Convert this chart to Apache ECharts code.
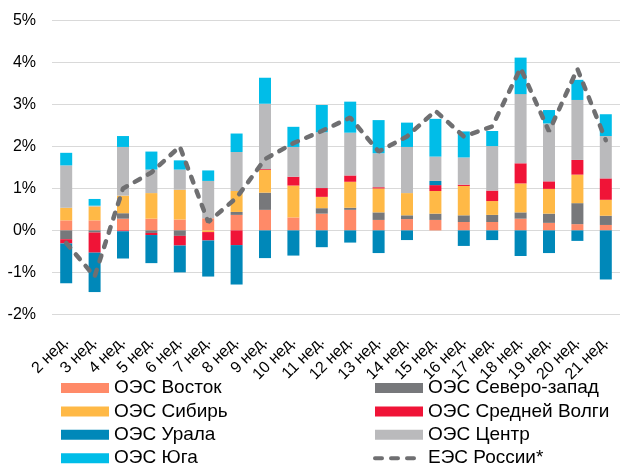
<!DOCTYPE html>
<html>
<head>
<meta charset="utf-8">
<script src="https://cdn.jsdelivr.net/npm/echarts@6/dist/echarts.min.js"></script>
<style>
  html, body { margin: 0; padding: 0; background: #fff; }
  #chart { width: 620px; height: 464px; }
</style>
</head>
<body>
<div id="chart"></div>
<script>
const weeks = ['2 нед.', '3 нед.', '4 нед.', '5 нед.', '6 нед.', '7 нед.', '8 нед.', '9 нед.', '10 нед.', '11 нед.',
  '12 нед.', '13 нед.', '14 нед.', '15 нед.', '16 нед.', '17 нед.', '18 нед.', '19 нед.', '20 нед.', '21 нед.']

const vostok = [0.24, 0.24, 0.28, 0.28, 0.26, 0.29, 0.37, 0.49, 0.31, 0.40, 0.49, 0.25, 0.27, 0.25, 0.20, 0.20, 0.28, 0.18, 0.15, 0.13]
const sevZapad = [-0.21, -0.05, 0.13, -0.06, -0.13, 0, 0.07, 0.41, 0, 0.13, 0.05, 0.18, 0.09, 0.15, 0.16, 0.17, 0.15, 0.22, 0.50, 0.22]
const sibir = [0.30, 0.33, 0.42, 0.61, 0.71, -0.04, 0.50, 0.54, 0.76, 0.27, 0.62, 0.57, 0.53, 0.54, 0.70, 0.33, 0.69, 0.59, 0.68, 0.38]
const srVolga = [-0.10, -0.48, -0.02, -0.05, -0.23, -0.20, -0.35, 0.02, 0.21, 0.21, 0.15, 0.03, 0, 0.14, 0.03, 0.25, 0.48, 0.18, 0.35, 0.51]
const ural = [-0.95, -0.94, -0.65, -0.67, -0.64, -0.86, -0.94, -0.66, -0.60, -0.40, -0.29, -0.54, -0.23, 0.10, -0.37, -0.23, -0.61, -0.54, -0.25, -1.17]
const centr = [1.01, 0.02, 1.16, 0.56, 0.48, 0.89, 0.93, 1.56, 0.71, 1.33, 1.02, 0.81, 1.10, 0.58, 0.65, 1.06, 1.65, 1.38, 1.43, 1.01]
const yug = [0.30, 0.16, 0.26, 0.43, 0.22, 0.25, 0.44, 0.62, 0.48, 0.65, 0.74, 0.79, 0.58, 0.90, 0.62, 0.36, 0.87, 0.32, 0.48, 0.52]
const ees = [-0.3, -1.1, 1.0, 1.38, 2.0, 0.2, 0.78, 1.7, 2.08, 2.37, 2.69, 1.88, 2.24, 2.85, 2.24, 2.48, 3.87, 2.36, 3.85, 2.15]

const font = "'Liberation Sans', Arial, sans-serif"

const bars = [
  { name: 'ОЭС Восток', data: vostok, color: '#FF8A68' },
  { name: 'ОЭС Северо-запад', data: sevZapad, color: '#77787B' },
  { name: 'ОЭС Сибирь', data: sibir, color: '#FFB946' },
  { name: 'ОЭС Средней Волги', data: srVolga, color: '#F01437' },
  { name: 'ОЭС Урала', data: ural, color: '#0088B9' },
  { name: 'ОЭС Центр', data: centr, color: '#BABABC' },
  { name: 'ОЭС Юга', data: yug, color: '#00BDE8' }
]

const legendText = { fontFamily: font, fontSize: 19, color: '#000', lineHeight: 20 }

// two legend columns, like the original (left / right)
function legendCol(left, names) {
  return {
    orient: 'vertical',
    left: left,
    top: 378,
    height: 120,
    itemWidth: 48,
    itemHeight: 10,
    itemGap: 3.4,
    padding: 0,
    textStyle: legendText,
    data: names
  }
}

const chart = echarts.init(document.getElementById('chart'))
chart.setOption({
  animation: false,
  grid: { left: 52, top: 20.7, width: 572, height: 293.6 },
  xAxis: {
    type: 'category',
    data: weeks,
    axisLine: { show: false, onZero: false },
    axisTick: { show: false },
    axisLabel: {
      rotate: 45,
      interval: 0,
      margin: 25,
      fontFamily: font,
      fontSize: 16,
      color: '#000'
    }
  },
  yAxis: {
    type: 'value',
    min: -2,
    max: 5,
    interval: 1,
    axisLabel: {
      formatter: '{value}%',
      margin: 16,
      fontFamily: font,
      fontSize: 16,
      color: '#000'
    },
    splitLine: { lineStyle: { color: '#D9D9D9', width: 1 } }
  },
  legend: [
    legendCol(61, [
      { name: 'ОЭС Восток', icon: 'rect' },
      { name: 'ОЭС Сибирь', icon: 'rect' },
      { name: 'ОЭС Урала', icon: 'rect' },
      { name: 'ОЭС Юга', icon: 'rect' }
    ]),
    legendCol(373, [
      { name: 'ОЭС Северо-запад', icon: 'rect' },
      { name: 'ОЭС Средней Волги', icon: 'rect' },
      { name: 'ОЭС Центр', icon: 'rect' },
      {
        name: 'ЕЭС России*',
        itemStyle: { opacity: 0 },
        lineStyle: { color: '#6F6F71', width: 4, type: [7, 9], cap: 'round' }
      }
    ])
  ],
  series: bars.map(b => ({
    name: b.name,
    type: 'bar',
    stack: 'total',
    barWidth: 12,
    data: b.data,
    itemStyle: { color: b.color }
  })).concat([
    {
      name: 'ЕЭС России*',
      type: 'line',
      data: ees,
      symbol: 'none',
      z: 5,
      lineStyle: { color: '#6F6F71', width: 4.5, type: [6, 9], cap: 'round' },
      itemStyle: { color: '#6F6F71' }
    }
  ])
})
</script>
</body>
</html>
